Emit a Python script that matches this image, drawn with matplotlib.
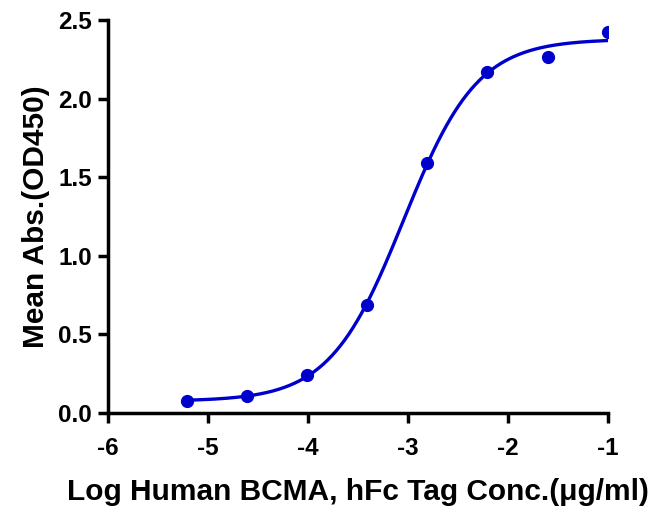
import numpy as np
import matplotlib
matplotlib.use("Agg")
import matplotlib.pyplot as plt

log_conc = [-5.21, -4.61, -4.01, -3.41, -2.81, -2.21, -1.60, -1.00]
mean_abs = [0.075, 0.11, 0.245, 0.685, 1.59, 2.17, 2.265, 2.425]
xticks = [-6, -5, -4, -3, -2, -1]
yticks = [0.0, 0.5, 1.0, 1.5, 2.0, 2.5]

x = np.array(log_conc)
y = np.array(mean_abs)

def f4(p, xx):
    b, t, c, h = p
    return b + (t - b) / (1 + 10 ** ((c - xx) * h))

# Levenberg-Marquardt fit of 4PL
p = np.array([0.07, 2.4, -3.1, 1.2])
lam = 1e-3
for _ in range(200):
    r = y - f4(p, x)
    J = np.zeros((len(x), 4))
    for i in range(4):
        dp = np.zeros(4); dp[i] = 1e-6
        J[:, i] = (f4(p + dp, x) - f4(p - dp, x)) / 2e-6
    A = J.T @ J
    g = J.T @ r
    step = np.linalg.solve(A + lam * np.diag(np.diag(A)), g)
    pn = p + step
    if np.sum((y - f4(pn, x)) ** 2) < np.sum(r ** 2):
        p = pn; lam *= 0.5
    else:
        lam *= 4

plt.rcParams['font.family'] = ['Liberation Sans', 'DejaVu Sans']
plt.rcParams['font.weight'] = 'bold'
fig = plt.figure(figsize=(6.58, 5.15), dpi=100)
ax = fig.add_axes([0.164, 0.198, 0.76, 0.763])
color = '#0000cc'
xs = np.linspace(x.min(), x.max(), 300)
ax.plot(xs, f4(p, xs), color=color, lw=2.4)
ax.plot(x, y, 'o', color=color, ms=8.5, zorder=3)

ax.set_xlim(-6, -1)
ax.set_ylim(0, 2.5)
ax.set_xticks(xticks)
ax.set_yticks(yticks)
ax.set_xticklabels([str(t) for t in xticks], fontweight='bold')
ax.set_yticklabels([f"{t:.1f}" for t in yticks], fontweight='bold')
for s in ['top', 'right']:
    ax.spines[s].set_visible(False)
for s in ['left', 'bottom']:
    ax.spines[s].set_linewidth(2.5)
    ax.spines[s].set_capstyle('projecting')
ax.tick_params(width=2.5, length=7.5, labelsize=17.5, direction='out')
ax.tick_params(axis='x', pad=10)
ax.tick_params(axis='y', pad=4)
ax.set_xlabel('Log Human BCMA, hFc Tag Conc.(μg/ml)', fontsize=21.5, fontweight='bold', labelpad=13)
ax.set_ylabel('Mean Abs.(OD450)', fontsize=21.5, fontweight='bold', labelpad=6)
fig.savefig('out.png', dpi=100)
